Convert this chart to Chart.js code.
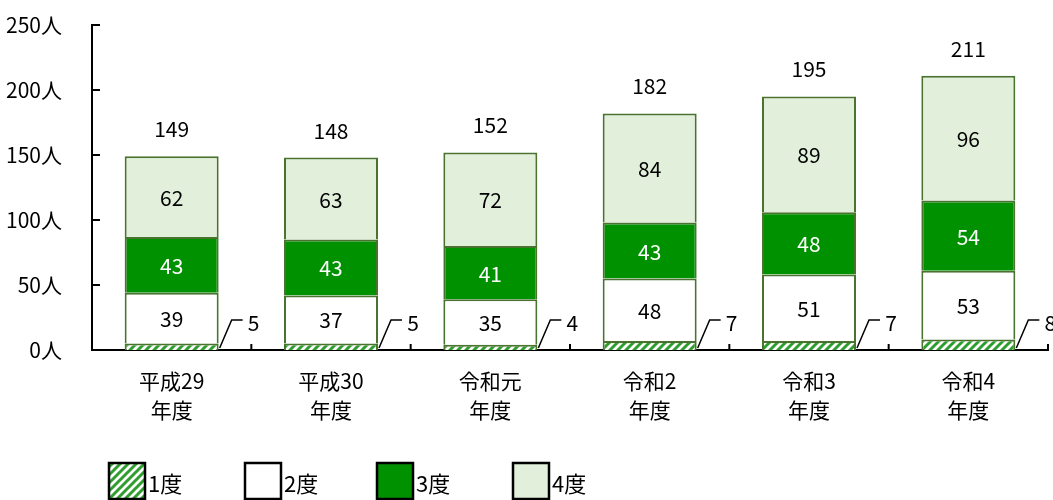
<!DOCTYPE html>
<html>
<head>
<meta charset="utf-8">
<script src="https://cdn.jsdelivr.net/npm/chart.js@4/dist/chart.umd.min.js"></script>
<style>
  body { margin: 0; background: #fff; }
</style>
</head>
<body>
<canvas id="chart" width="1053" height="500"></canvas>
<script>
const years = [['平成29', '年度'], ['平成30', '年度'], ['令和元', '年度'], ['令和2', '年度'], ['令和3', '年度'], ['令和4', '年度']];
const seriesNames = ['1度', '2度', '3度', '4度'];
const grade1 = [5, 5, 4, 7, 7, 8];
const grade2 = [39, 37, 35, 48, 51, 53];
const grade3 = [43, 43, 41, 43, 48, 54];
const grade4 = [62, 63, 72, 84, 89, 96];
const totals = [149, 148, 152, 182, 195, 211];
const yTicks = [0, 50, 100, 150, 200, 250];

const FONT = "'Noto Sans CJK JP', 'Noto Sans', sans-serif";

// 斜線パターン (1度)
function hatch() {
    const c = document.createElement('canvas');
    c.width = 8; c.height = 8;
    const g = c.getContext('2d');
    g.fillStyle = '#fff';
    g.fillRect(0, 0, 8, 8);
    g.strokeStyle = '#2e9e2e';
    g.lineWidth = 3;
    g.beginPath();
    g.moveTo(-2, 10); g.lineTo(10, -2);
    g.moveTo(-6, 6); g.lineTo(6, -6);
    g.moveTo(2, 14); g.lineTo(14, 2);
    g.stroke();
    return g.createPattern(c, 'repeat');
}

const fills = [hatch(), '#ffffff', '#009100', '#e2efda'];
const labelColors = ['#000', '#000', '#fff', '#000'];

const labelsPlugin = {
    id: 'labels',
    afterDatasetsDraw(chart) {
        const ctx = chart.ctx;
        ctx.save();
        ctx.font = '21px ' + FONT;
        ctx.textAlign = 'center';
        ctx.textBaseline = 'middle';
        const data = [grade1, grade2, grade3, grade4];
        for (let d = 1; d < 4; d++) {
            chart.getDatasetMeta(d).data.forEach((bar, i) => {
                ctx.fillStyle = labelColors[d];
                ctx.fillText(data[d][i], bar.x, (bar.y + bar.base) / 2 + 1);
            });
        }
        // 1度は引き出し線
        chart.getDatasetMeta(0).data.forEach((bar, i) => {
            const rx = bar.x + bar.width / 2;
            const b = bar.base;
            ctx.strokeStyle = '#000';
            ctx.lineWidth = 1.5;
            ctx.beginPath();
            ctx.moveTo(rx + 1, b - 2);
            ctx.lineTo(rx + 13, b - 30);
            ctx.lineTo(rx + 24, b - 30);
            ctx.stroke();
            ctx.fillStyle = '#000';
            ctx.fillText(grade1[i], rx + 35, b - 27);
        });
        // 合計
        chart.getDatasetMeta(3).data.forEach((bar, i) => {
            ctx.fillStyle = '#000';
            ctx.fillText(totals[i], bar.x, bar.y - 27);
        });
        ctx.restore();
    }
};

// 内向きの目盛り
const ticksPlugin = {
    id: 'innerTicks',
    afterDraw(chart) {
        const ctx = chart.ctx;
        const x = chart.scales.x, y = chart.scales.y;
        ctx.save();
        ctx.strokeStyle = '#000';
        ctx.lineWidth = 2;
        ctx.beginPath();
        yTicks.forEach(v => {
            const py = y.getPixelForValue(v);
            ctx.moveTo(x.left, py);
            ctx.lineTo(x.left + 8, py);
        });
        for (let i = 0; i < years.length; i++) {
            const px = i < years.length - 1
                ? (x.getPixelForValue(i) + x.getPixelForValue(i + 1)) / 2
                : x.right;
            ctx.moveTo(px, y.bottom);
            ctx.lineTo(px, y.bottom - 6);
        }
        ctx.stroke();
        ctx.restore();
    }
};

const legendPlugin = {
    id: 'boxLegend',
    afterDraw(chart) {
        const ctx = chart.ctx;
        const xs = [109, 245, 377, 513];
        ctx.save();
        ctx.font = '22px ' + FONT;
        ctx.textBaseline = 'middle';
        ctx.textAlign = 'left';
        seriesNames.forEach((name, i) => {
            ctx.fillStyle = fills[i];
            ctx.fillRect(xs[i], 463, 36, 36);
            ctx.strokeStyle = '#000';
            ctx.lineWidth = 2.5;
            ctx.strokeRect(xs[i], 463, 36, 36);
            ctx.fillStyle = '#000';
            ctx.fillText(name, xs[i] + 39, 484);
        });
        ctx.restore();
    }
};

const data = [grade1, grade2, grade3, grade4];

new Chart(document.getElementById('chart'), {
    type: 'bar',
    data: {
        labels: years,
        datasets: seriesNames.map((name, i) => ({
            label: name,
            data: data[i],
            backgroundColor: fills[i],
            borderColor: '#4a7330',
            borderWidth: { left: 2, right: 2, top: 2, bottom: 0 },
            borderSkipped: false,
            barPercentage: 0.59,
            categoryPercentage: 1
        }))
    },
    options: {
        responsive: false,
        animation: false,
        layout: { padding: { top: 25, right: 5 } },
        plugins: {
            legend: { display: false },
            tooltip: { enabled: false }
        },
        scales: {
            x: {
                stacked: true,
                grid: { display: false },
                border: { color: '#000', width: 2 },
                ticks: {
                    color: '#000',
                    padding: 8,
                    maxRotation: 0,
                    font: { family: FONT, size: 21, lineHeight: 1.4 }
                },
                afterFit(scale) { scale.height = 150; }
            },
            y: {
                stacked: true,
                min: 0,
                max: 250,
                grid: { display: false },
                border: { color: '#000', width: 2 },
                ticks: {
                    stepSize: 50,
                    color: '#000',
                    padding: 22,
                    font: { family: FONT, size: 21 },
                    callback: v => v + '人'
                },
                afterFit(scale) {
                    scale.width = 92;
                    scale.paddingTop = 0;
                    scale.paddingBottom = 0;
                }
            }
        }
    },
    plugins: [labelsPlugin, ticksPlugin, legendPlugin]
});
</script>
</body>
</html>
